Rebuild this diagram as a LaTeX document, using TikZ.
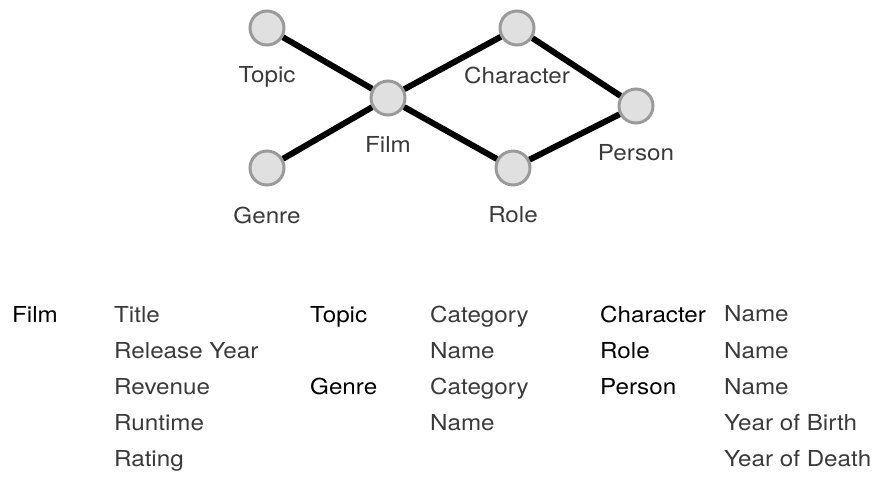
\documentclass[tikz,border=0pt]{standalone}
\usepackage{fontspec}
\setmainfont{TeX Gyre Heros}[FakeStretch=1.1]
\usetikzlibrary{positioning}
\definecolor{nodefill}{HTML}{E0E0E0}
\definecolor{nodeedge}{HTML}{9A9A9A}
\definecolor{txtgray}{HTML}{3A3A3A}

\begin{document}
\begin{tikzpicture}[x=1pt, y=-1pt, node distance=20pt,
  ent/.style={circle, draw=nodeedge, fill=nodefill, line width=3pt, minimum size=34pt, inner sep=0pt},
  lbl/.style={inner sep=0pt, text=txtgray, font=\fontsize{22}{26}\selectfont},
  link/.style={line width=6pt},
  hdr/.style={anchor=base west, inner sep=0pt, font=\fontsize{22}{36}\selectfont},
  attr/.style={hdr, anchor=north west, align=left, text=txtgray}]
\useasboundingbox (0,0) rectangle (874,483);

% entity graph
\node[ent] (topic) at (267,28) {};
\node[ent] (film) at (388,98) {};
\node[ent] (genre) at (267,168) {};
\node[ent] (character) at (517,28) {};
\node[ent] (role) at (513,168) {};
\node[ent] (person) at (636,106) {};

\node[lbl, below=of topic] (topic-lbl) {Topic};
\node[lbl, below=of film] (film-lbl) {Film};
\node[lbl, below=of genre] (genre-lbl) {Genre};
\node[lbl, below=of character] (character-lbl) {Character};
\node[lbl, below=of role] (role-lbl) {Role};
\node[lbl, below=of person] (person-lbl) {Person};

\draw[link] (topic) -- (film);
\draw[link] (genre) -- (film);
\draw[link] (film) -- (character);
\draw[link] (film) -- (role);
\draw[link] (character) -- (person);
\draw[link] (role) -- (person);

% attribute table, lists hang from the top of their header
\node[hdr] (film-h) at (12,322) {Film};
\node[attr] (film-a) at (114,0 |- film-h.north) {Title\\Release Year\\Revenue\\Runtime\\Rating};
\node[hdr] (topic-h) at (310,322) {Topic};
\node[attr] (topic-a) at (430,0 |- topic-h.north) {Category\\Name};
\node[hdr] (genre-h) at (310,394) {Genre};
\node[attr] (genre-a) at (430,0 |- genre-h.north) {Category\\Name};
\node[hdr] (character-h) at (600,322) {Character};
\node[attr] (character-a) at (724,0 |- character-h.north) {Name};
\node[hdr] (role-h) at (600,358) {Role};
\node[attr] (role-a) at (724,0 |- role-h.north) {Name};
\node[hdr] (person-h) at (600,394) {Person};
\node[attr] (person-a) at (724,0 |- person-h.north) {Name\\Year of Birth\\Year of Death};
\end{tikzpicture}
\end{document}
